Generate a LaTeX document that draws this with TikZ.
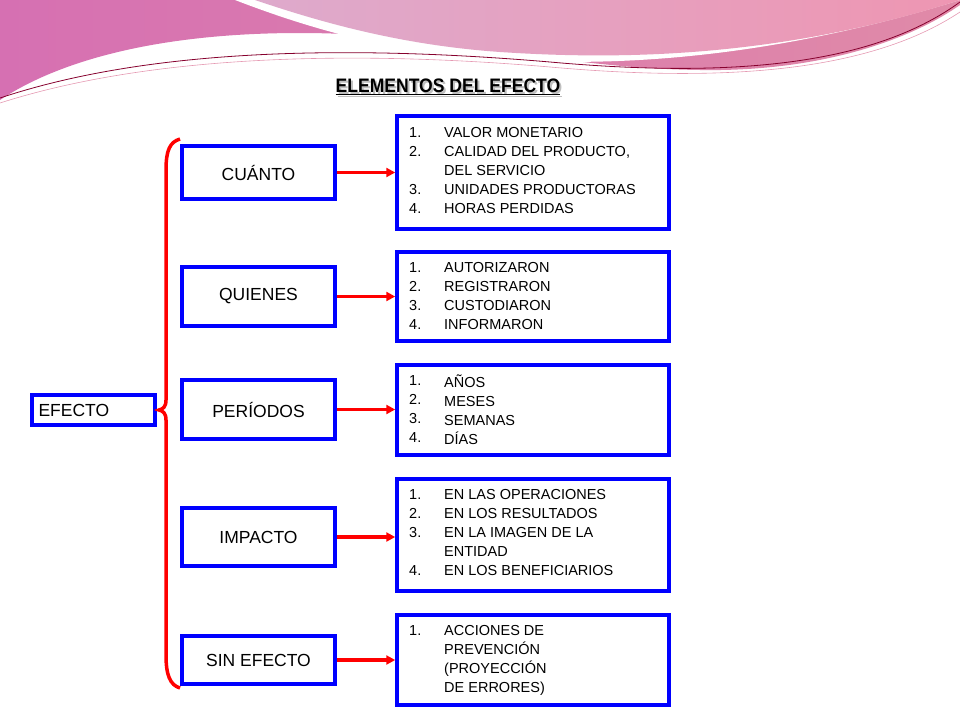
\documentclass[tikz,border=0pt]{standalone}
\usepackage{fontspec}
\setmainfont{Liberation Sans}
\usetikzlibrary{arrows.meta}
\definecolor{pinkA}{RGB}{214,112,178}
\definecolor{pinkB}{RGB}{224,138,168}
\definecolor{lavA}{RGB}{222,170,204}
\definecolor{lavB}{RGB}{238,150,178}
\begin{document}
\begin{tikzpicture}[x=1pt,y=-1pt,
 lbox/.style={draw=blue,line width=3.5pt,font=\fontsize{17.5}{20}\selectfont},
 rbox/.style={draw=blue,line width=3.5pt},
 arr/.style={draw=red,line width=3.5pt,-{Triangle[length=9pt,width=9pt]}},
 lst/.style={anchor=north west,font=\fontsize{14.5}{19}\selectfont,align=left,inner sep=0pt}]
\useasboundingbox (0,0) rectangle (960,720);
% banner
\shade[left color=pinkA,right color=pinkB] (0,0) -- (0,100) .. controls (60,60) and (160,33) .. (300,33) .. controls (450,33) and (550,68) .. (700,70) .. controls (820,72) and (910,40) .. (960,5) -- (960,0) -- cycle;
\fill[white] (235,0) .. controls (300,25) and (380,50) .. (480,58) .. controls (600,68) and (760,62) .. (960,0) -- cycle;
\shade[left color=lavA,right color=lavB] (255,0) .. controls (320,22) and (400,45) .. (500,52) .. controls (620,60) and (780,58) .. (960,0) -- cycle;
\draw[purple!70!black,line width=0.8pt] (0,98) .. controls (150,48) and (350,45) .. (550,62) .. controls (750,80) and (880,60) .. (960,2);
\draw[purple!40,line width=0.6pt] (0,103) .. controls (150,55) and (350,50) .. (550,67) .. controls (750,85) and (880,65) .. (960,12);
% title
\node (titles) [gray!50,font=\fontsize{19.5}{20}\selectfont\bfseries] at (450,89) {\underline{\addfontfeatures{FakeStretch=0.9}ELEMENTOS DEL EFECTO}};
\node (title) [font=\fontsize{19.5}{20}\selectfont\bfseries] at (448,87) {\underline{\addfontfeatures{FakeStretch=0.9}ELEMENTOS DEL EFECTO}};
% left boxes
\node (ef) [lbox,minimum width=123pt,minimum height=30pt,text width=110pt,align=left] at (93.5,410) {EFECTO};
\node (a) [lbox,minimum width=153pt,minimum height=53pt] at (258.5,172.5) {CUÁNTO};
\node (b) [lbox,minimum width=153pt,minimum height=59pt] at (258.5,296.5) {QUIENES};
\node (c) [lbox,minimum width=153pt,minimum height=59pt] at (258.5,409.5) {PERÍODOS};
\node (d) [lbox,minimum width=153pt,minimum height=58pt] at (258.5,537) {IMPACTO};
\node (e) [lbox,minimum width=153pt,minimum height=48pt] at (258.5,660) {SIN EFECTO};
% brace
\draw[red,line width=3.5pt] (180,139) .. controls (170,142) and (166,150) .. (166,170) -- (166,400) .. controls (166,407) and (163,409) .. (159,410) .. controls (163,411) and (166,413) .. (166,420) -- (166,655) .. controls (166,675) and (170,685) .. (180,688);
% right boxes
\node (ra) [rbox,minimum width=272pt,minimum height=113pt] at (533,172.5) {};
\node (rb) [rbox,minimum width=272pt,minimum height=89pt] at (533,296.5) {};
\node (rc) [rbox,minimum width=272pt,minimum height=90pt] at (533,410) {};
\node (rd) [rbox,minimum width=272pt,minimum height=112pt] at (533,535) {};
\node (re) [rbox,minimum width=272pt,minimum height=90pt] at (533,660) {};
\node[lst] at (409,127) {1.\\2.\\\\3.\\4.};
\node[lst] at (444,127) {VALOR MONETARIO\\CALIDAD DEL PRODUCTO,\\DEL SERVICIO\\UNIDADES PRODUCTORAS\\HORAS PERDIDAS};
\node[lst] at (409,262) {1.\\2.\\3.\\4.};
\node[lst] at (444,262) {AUTORIZARON\\REGISTRARON\\CUSTODIARON\\INFORMARON};
\node[lst] at (409,375) {1.\\2.\\3.\\4.};
\node[lst] at (444,375) {AÑOS\\MESES\\SEMANAS\\DÍAS};
\node[lst] at (409,489) {1.\\2.\\3.\\\\4.};
\node[lst] at (444,489) {EN LAS OPERACIONES\\EN LOS RESULTADOS\\EN LA IMAGEN DE LA\\ENTIDAD\\EN LOS BENEFICIARIOS};
\node[lst] at (409,625) {1.};
\node[lst] at (444,625) {ACCIONES DE\\PREVENCIÓN\\(PROYECCIÓN\\DE ERRORES)};
% arrows
\draw[arr] (a.east) -- (ra.west);
\draw[arr] (b.east) -- (rb.west |- b.east);
\draw[arr] (c.east) -- (rc.west |- c.east);
\draw[arr] (d.east) -- (rd.west |- d.east);
\draw[arr] (e.east) -- (re.west);
\end{tikzpicture}
\end{document}
